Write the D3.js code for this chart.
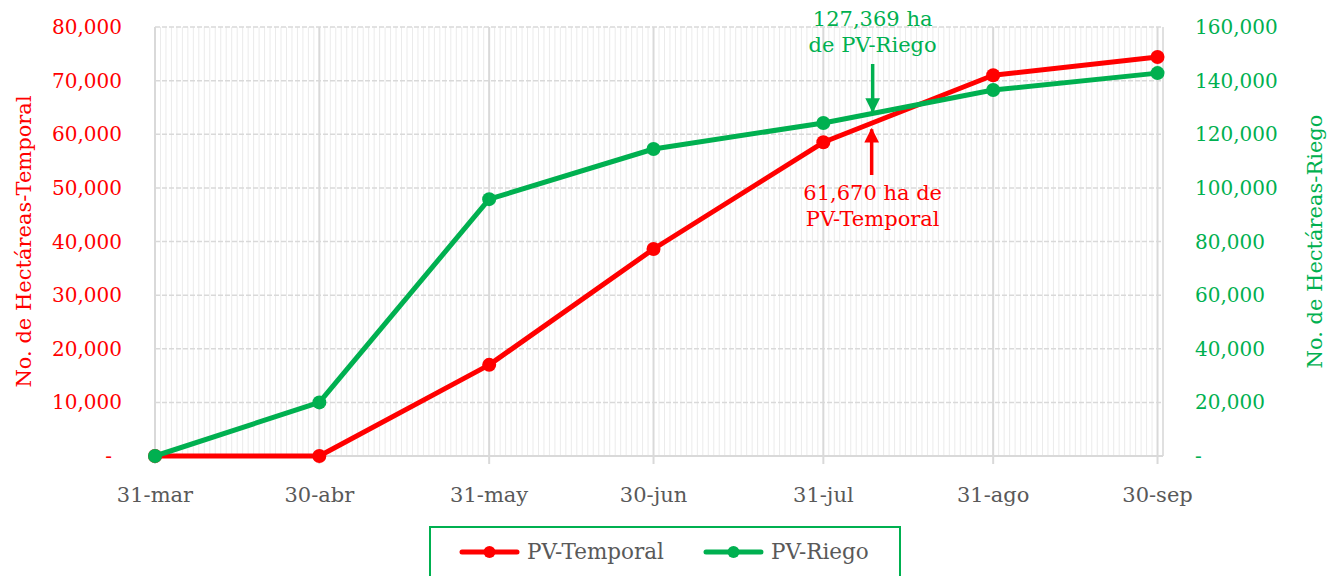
<!DOCTYPE html>
<html>
<head>
<meta charset="utf-8">
<script src="https://cdn.jsdelivr.net/npm/d3@7"></script>
<style>
	body { margin: 0; background: #fff; }
	svg text { font-family: "DejaVu Serif", serif; }
</style>
</head>
<body>
<div class="chart"></div>
<script>

const fechas = ["2023-03-31", "2023-04-30", "2023-05-31", "2023-06-30", "2023-07-31", "2023-08-31", "2023-09-30"];
const etiquetas = ["31-mar", "30-abr", "31-may", "30-jun", "31-jul", "31-ago", "30-sep"];
const temporal = [0, 0, 17000, 38600, 58500, 71000, 74400];
const riego = [0, 20000, 95800, 114500, 124200, 136500, 142800];
const ticksTemporal = [0, 10000, 20000, 30000, 40000, 50000, 60000, 70000, 80000];
const ticksRiego = [0, 20000, 40000, 60000, 80000, 100000, 120000, 140000, 160000];
const notaFecha = "2023-08-09";
const notaRiego = 127369;
const notaTemporal = 61670;

const rojo = "#ff0000";
const verde = "#00b050";
const gris = "#595959";

const parse = d3.timeParse("%Y-%m-%d");
const dates = fechas.map(parse);

const width = 1327, height = 576;
const m = { left: 155, right: 1163, top: 27, bottom: 456 };

const svg = d3.select(".chart").append("svg")
	.attr("width", width)
	.attr("height", height);

const x = d3.scaleTime()
	.domain([dates[0], d3.timeDay.offset(dates[dates.length - 1], 1)])
	.range([m.left, m.right]);
const yL = d3.scaleLinear().domain([0, 80000]).range([m.bottom, m.top]);
const yR = d3.scaleLinear().domain([0, 160000]).range([m.bottom, m.top]);

const fmt = (d) => d === 0 ? "-" : d3.format(",")(d);

// daily minor gridlines
svg.append("g")
	.selectAll("line")
	.data(d3.timeDay.range(x.domain()[0], x.domain()[1]))
	.enter().append("line")
		.attr("x1", (d) => x(d)).attr("x2", (d) => x(d))
		.attr("y1", m.top).attr("y2", m.bottom)
		.attr("stroke", "#ebebeb")
		.attr("stroke-width", 1);

// horizontal dashed gridlines
svg.append("g")
	.selectAll("line")
	.data(ticksTemporal.slice(1))
	.enter().append("line")
		.attr("x1", m.left).attr("x2", m.right)
		.attr("y1", (d) => yL(d)).attr("y2", (d) => yL(d))
		.attr("stroke", "#d9d9d9")
		.attr("stroke-width", 1.5)
		.attr("stroke-dasharray", "5,2");

// monthly major gridlines + ticks
svg.append("g")
	.selectAll("line")
	.data(dates)
	.enter().append("line")
		.attr("x1", (d) => x(d)).attr("x2", (d) => x(d))
		.attr("y1", m.top).attr("y2", m.bottom + 8)
		.attr("stroke", "#d9d9d9")
		.attr("stroke-width", 2);

// frame lines
svg.append("line")
	.attr("x1", m.left).attr("x2", m.left)
	.attr("y1", m.top).attr("y2", m.bottom)
	.attr("stroke", "#d9d9d9").attr("stroke-width", 2);
svg.append("line")
	.attr("x1", m.right).attr("x2", m.right)
	.attr("y1", m.top).attr("y2", m.bottom)
	.attr("stroke", "#e0e0e0").attr("stroke-width", 2);
svg.append("line")
	.attr("x1", m.left).attr("x2", m.right)
	.attr("y1", m.bottom).attr("y2", m.bottom)
	.attr("stroke", "#d9d9d9").attr("stroke-width", 2);

// x labels
svg.append("g")
	.selectAll("text")
	.data(dates)
	.enter().append("text")
		.attr("x", (d) => x(d))
		.attr("y", 502)
		.attr("text-anchor", "middle")
		.attr("fill", gris)
		.attr("font-size", 21)
		.text((d, i) => etiquetas[i]);

// left axis labels
svg.append("g")
	.selectAll("text")
	.data(ticksTemporal)
	.enter().append("text")
		.attr("x", (d) => d === 0 ? 112 : 122)
		.attr("y", (d) => yL(d) + 7)
		.attr("text-anchor", "end")
		.attr("fill", rojo)
		.attr("font-size", 20)
		.text(fmt);

// right axis labels
svg.append("g")
	.selectAll("text")
	.data(ticksRiego)
	.enter().append("text")
		.attr("x", 1195)
		.attr("y", (d) => yR(d) + 7)
		.attr("text-anchor", "start")
		.attr("fill", verde)
		.attr("font-size", 20)
		.text(fmt);

// axis titles
svg.append("text")
	.attr("transform", `translate(31,${(m.top + m.bottom) / 2}) rotate(-90)`)
	.attr("text-anchor", "middle")
	.attr("fill", rojo)
	.attr("font-size", 21)
	.text("No. de Hectáreas-Temporal");
svg.append("text")
	.attr("transform", `translate(1322,${(m.top + m.bottom) / 2}) rotate(-90)`)
	.attr("text-anchor", "middle")
	.attr("fill", verde)
	.attr("font-size", 21)
	.text("No. de Hectáreas-Riego");

// series
const series = [
	{ name: "PV-Temporal", values: temporal, y: yL, color: rojo },
	{ name: "PV-Riego", values: riego, y: yR, color: verde }
];

series.forEach((s) => {
	const line = d3.line()
		.x((d, i) => x(dates[i]))
		.y((d) => s.y(d));
	svg.append("path")
		.datum(s.values)
		.attr("fill", "none")
		.attr("stroke", s.color)
		.attr("stroke-width", 5)
		.attr("stroke-linejoin", "round")
		.attr("d", line);
	svg.append("g")
		.selectAll("circle")
		.data(s.values)
		.enter().append("circle")
			.attr("cx", (d, i) => x(dates[i]))
			.attr("cy", (d) => s.y(d))
			.attr("r", 7)
			.attr("fill", s.color);
});

// annotations
const nx = x(parse(notaFecha));
const fmtN = d3.format(",");

svg.append("defs").selectAll("marker")
	.data([["flechaVerde", verde], ["flechaRoja", rojo]])
	.enter().append("marker")
		.attr("id", (d) => d[0])
		.attr("viewBox", "0 0 10 10")
		.attr("refX", 9).attr("refY", 5)
		.attr("markerWidth", 4.2).attr("markerHeight", 4.2)
		.attr("markerUnits", "strokeWidth")
		.attr("orient", "auto")
	.append("path")
		.attr("d", "M0,0L10,5L0,10Z")
		.attr("fill", (d) => d[1]);

const yRiegoNota = yR(notaRiego);
svg.append("line")
	.attr("x1", nx).attr("x2", nx)
	.attr("y1", 64).attr("y2", yRiegoNota - 3)
	.attr("stroke", verde).attr("stroke-width", 3.5)
	.attr("marker-end", "url(#flechaVerde)");
svg.append("text")
	.attr("x", nx).attr("y", 26)
	.attr("text-anchor", "middle").attr("fill", verde).attr("font-size", 21)
	.text(`${fmtN(notaRiego)} ha`);
svg.append("text")
	.attr("x", nx).attr("y", 52)
	.attr("text-anchor", "middle").attr("fill", verde).attr("font-size", 21)
	.text("de PV-Riego");

const yTempNota = yL(notaTemporal);
svg.append("line")
	.attr("x1", nx - 1).attr("x2", nx - 1)
	.attr("y1", 175).attr("y2", yTempNota + 4)
	.attr("stroke", rojo).attr("stroke-width", 3.5)
	.attr("marker-end", "url(#flechaRoja)");
svg.append("text")
	.attr("x", nx).attr("y", 200)
	.attr("text-anchor", "middle").attr("fill", rojo).attr("font-size", 21)
	.text(`${fmtN(notaTemporal)} ha de`);
svg.append("text")
	.attr("x", nx).attr("y", 226)
	.attr("text-anchor", "middle").attr("fill", rojo).attr("font-size", 21)
	.text("PV-Temporal");

// legend
const legend = svg.append("g");
legend.append("rect")
	.attr("x", 430).attr("y", 527)
	.attr("width", 470).attr("height", 60)
	.attr("fill", "none")
	.attr("stroke", verde)
	.attr("stroke-width", 2);

const items = legend.selectAll(".item")
	.data(series).enter()
	.append("g")
		.attr("class", "item")
		.attr("transform", (d, i) => `translate(${i === 0 ? 462 : 706},552)`);
items.append("line")
	.attr("x1", 0).attr("x2", 55)
	.attr("stroke", (d) => d.color)
	.attr("stroke-width", 5)
	.attr("stroke-linecap", "round");
items.append("circle")
	.attr("cx", 27.5).attr("r", 6)
	.attr("fill", (d) => d.color);
items.append("text")
	.attr("x", 65).attr("y", 7)
	.attr("fill", gris)
	.attr("font-size", 21.5)
	.text((d) => d.name);

</script>
</body>
</html>
